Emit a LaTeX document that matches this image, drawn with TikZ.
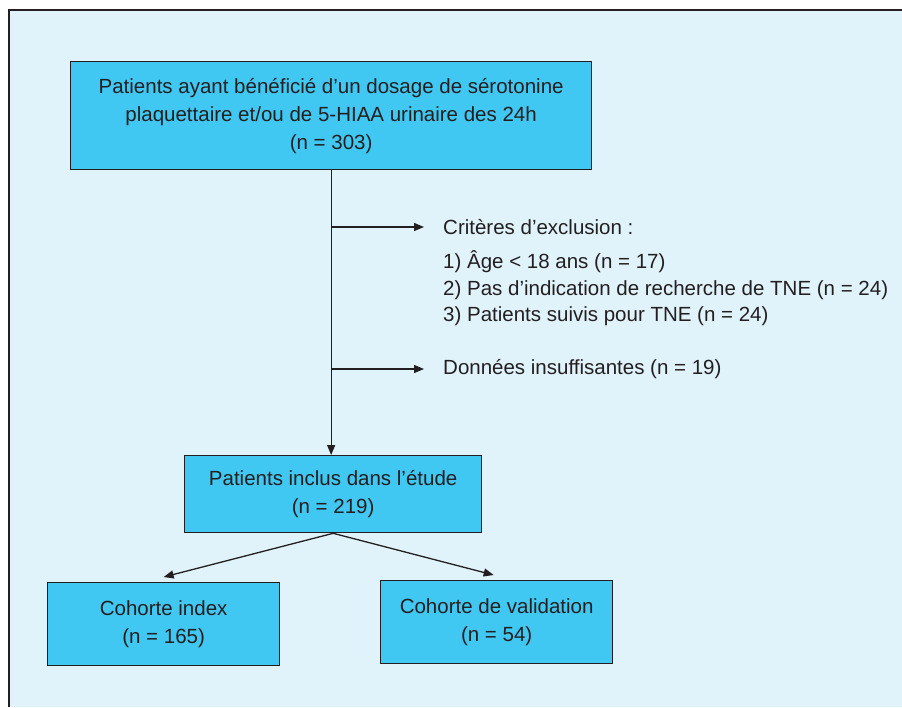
\documentclass[tikz,border=0pt]{standalone}
\usepackage{fontspec}
\setmainfont{Liberation Sans}
\usetikzlibrary{arrows.meta}
\definecolor{bg}{HTML}{E0F3FB}
\definecolor{boxfill}{HTML}{40C8F2}
\definecolor{ink}{HTML}{231F20}
\begin{document}
\begin{tikzpicture}[x=1pt,y=-1pt,
  box/.style={draw=ink, line width=1.3pt, fill=boxfill, text=ink, align=center,
    font=\fontsize{20.5}{28}\selectfont, inner sep=0pt, anchor=north west},
  conn/.style={draw=ink, line width=1.3pt, -{Triangle[length=10pt,width=8pt]}},
  lbl/.style={text=ink, anchor=west, inner sep=0pt, font=\fontsize{20.5}{27}\selectfont}]
\useasboundingbox (0,0) rectangle (902,707);
\fill[white] (0,0) rectangle (902,707);
\fill[bg] (9,10) rectangle (902,707);
\draw[ink, line width=1.2pt] (9,707) -- (9,10) -- (902,10);

\node[box, minimum width=521pt, minimum height=108pt] (top) at (70,61)
  {Patients ayant bénéficié d’un dosage de sérotonine\\ plaquettaire et/ou de 5-HIAA urinaire des 24h\\ (n = 303)};
\node[box, minimum width=297pt, minimum height=77pt] (mid) at (184,455)
  {Patients inclus dans l’étude\\ (n = 219)};
\node[box, minimum width=232pt, minimum height=83pt] (bl) at (47,582)
  {Cohorte index\\ (n = 165)};
\node[box, minimum width=232pt, minimum height=83pt] (br) at (380,580)
  {Cohorte de validation\\ (n = 54)};

\node[lbl] (crit) at (443,227) {Critères d’exclusion :};
\node[lbl] (c1) at (443,262) {1) Âge < 18 ans (n = 17)};
\node[lbl] (c2) at (443,290) {2) Pas d’indication de recherche de TNE (n = 24)};
\node[lbl] (c3) at (443,316) {3) Patients suivis pour TNE (n = 24)};
\node[lbl] (don) at (443,369) {Données insuffisantes (n = 19)};

\coordinate (e1) at ([xshift=-19pt]crit.west);
\coordinate (e2) at ([xshift=-19pt]don.west);
\coordinate (ebl) at ([yshift=5pt]bl.north);
\coordinate (ebr) at ([shift={(-3pt,5pt)}]br.north);

\draw[conn] (top.south) -- (top.south |- mid.north);
\draw[conn] (top.south |- e1) -- (e1);
\draw[conn] (top.south |- e2) -- (e2);
\draw[conn] (mid.south) -- (ebl);
\draw[conn] (mid.south) -- (ebr);
\end{tikzpicture}
\end{document}
